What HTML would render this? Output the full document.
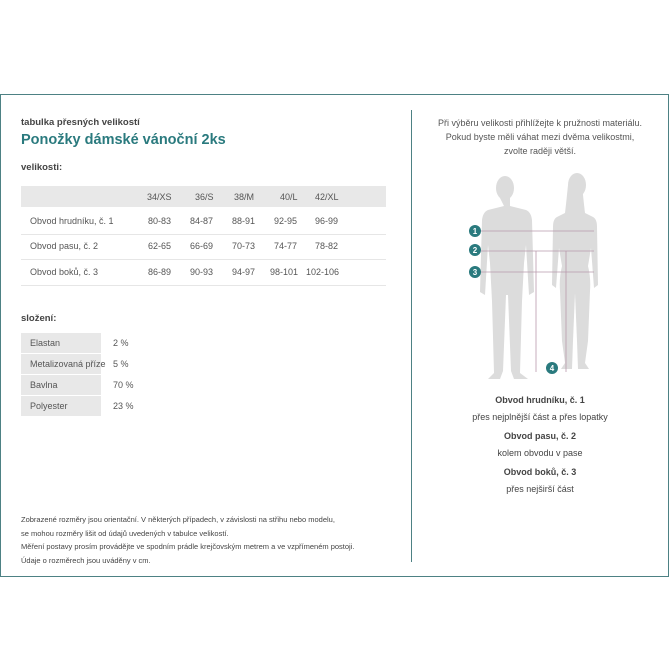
<!DOCTYPE html>
<html><head><meta charset="utf-8"><style>
body{margin:0;width:670px;height:670px;background:#fff;font-family:"Liberation Sans",sans-serif;color:#444;position:relative;overflow:hidden}
.a{position:absolute;white-space:nowrap}
.frame{position:absolute;left:0;top:94px;width:667px;height:481px;border:1.5px solid #4d8184}
.s{font-size:9px;color:#555}
.g{background:#e8e8e8}
</style></head><body>
<div class="frame"></div>
<div class="a" style="left:411px;top:110px;width:1px;height:452px;background:#4d8184"></div>

<div class="a" style="left:21px;top:117px;font-size:9.5px;font-weight:bold;color:#444">tabulka přesných velikostí</div>
<div class="a" style="left:21px;top:132px;font-size:14.5px;font-weight:bold;color:#2a7a7e">Ponožky dámské vánoční 2ks</div>
<div class="a" style="left:21px;top:162px;font-size:9.5px;font-weight:bold;color:#444">velikosti:</div>

<div class="a g" style="left:21px;top:186px;width:365px;height:21px"></div>
<div class="a" style="left:21px;top:234px;width:365px;height:1px;background:#e6e6e6"></div>
<div class="a" style="left:21px;top:259px;width:365px;height:1px;background:#e6e6e6"></div>
<div class="a" style="left:21px;top:285px;width:365px;height:1px;background:#e6e6e6"></div>

<div class="a s" style="left:147px;top:192px">34/XS</div>
<div class="a s" style="left:195px;top:192px">36/S</div>
<div class="a s" style="left:234px;top:192px">38/M</div>
<div class="a s" style="left:280px;top:192px">40/L</div>
<div class="a s" style="left:315px;top:192px">42/XL</div>

<div class="a s" style="left:30px;top:216px">Obvod hrudníku, č. 1</div>
<div class="a s" style="left:148px;top:216px">80-83</div><div class="a s" style="left:190px;top:216px">84-87</div><div class="a s" style="left:232px;top:216px">88-91</div><div class="a s" style="left:274px;top:216px">92-95</div><div class="a s" style="left:315px;top:216px">96-99</div>
<div class="a s" style="left:30px;top:241px">Obvod pasu, č. 2</div>
<div class="a s" style="left:148px;top:241px">62-65</div><div class="a s" style="left:190px;top:241px">66-69</div><div class="a s" style="left:232px;top:241px">70-73</div><div class="a s" style="left:274px;top:241px">74-77</div><div class="a s" style="left:315px;top:241px">78-82</div>
<div class="a s" style="left:30px;top:267px">Obvod boků, č. 3</div>
<div class="a s" style="left:148px;top:267px">86-89</div><div class="a s" style="left:190px;top:267px">90-93</div><div class="a s" style="left:232px;top:267px">94-97</div><div class="a s" style="left:270px;top:267px">98-101</div><div class="a s" style="left:306px;top:267px">102-106</div>

<div class="a" style="left:21px;top:313px;font-size:9.5px;font-weight:bold;color:#444">složení:</div>
<div class="a g" style="left:21px;top:333px;width:80px;height:20px"></div>
<div class="a g" style="left:21px;top:354px;width:80px;height:20px"></div>
<div class="a g" style="left:21px;top:375px;width:80px;height:20px"></div>
<div class="a g" style="left:21px;top:396px;width:80px;height:20px"></div>
<div class="a s" style="left:30px;top:338px">Elastan</div><div class="a s" style="left:113px;top:338px">2 %</div>
<div class="a s" style="left:30px;top:359px">Metalizovaná příze</div><div class="a s" style="left:113px;top:359px">5 %</div>
<div class="a s" style="left:30px;top:380px">Bavlna</div><div class="a s" style="left:113px;top:380px">70 %</div>
<div class="a s" style="left:30px;top:401px">Polyester</div><div class="a s" style="left:113px;top:401px">23 %</div>

<div class="a" style="left:21px;top:513px;font-size:7.5px;line-height:13.5px;color:#444">Zobrazené rozměry jsou orientační. V některých případech, v závislosti na střihu nebo modelu,<br>se mohou rozměry lišit od údajů uvedených v tabulce velikostí.<br>Měření postavy prosím provádějte ve spodním prádle krejčovským metrem a ve vzpřímeném postoji.<br>Údaje o rozměrech jsou uváděny v cm.</div>

<div class="a s" style="left:411px;top:116px;width:258px;text-align:center;white-space:normal;line-height:14px">Při výběru velikosti přihlížejte k pružnosti materiálu.<br>Pokud byste měli váhat mezi dvěma velikostmi,<br>zvolte raději větší.</div>

<svg class="a" style="left:411px;top:160px" width="258" height="220" viewBox="0 0 258 220">
<g fill="#dcdcdc">
<ellipse cx="94" cy="28" rx="9" ry="12"/>
<path d="M89 38 h10 v8 l16 4 q5 2 6 10 l2 72 l-5 3 l-3 -50 l-2 18 l-2 38 l-2 72 l8 6 l-14 0 l-3 -8 l-3 -76 l-2 0 l-3 76 l-3 8 l-12 0 l6 -6 l-2 -72 l-2 -38 l-2 -18 l-3 50 l-5 -3 l2 -72 q1 -8 6 -10 l16 -4z"/>
<ellipse cx="166" cy="25" rx="9" ry="12"/>
<path d="M157 25 q-2 20 -3 28 l-8 4 q-4 2 -4 10 l-1 58 l4 3 l3 -40 l3 18 q-3 12 -2 25 l2 50 l3 22 l-4 6 l11 0 l1 -28 l2 -48 l2 48 l1 28 l11 0 l-4 -6 l3 -22 l2 -50 q1 -13 -2 -25 l3 -18 l3 40 l4 -3 l-1 -58 q0 -8 -4 -10 l-8 -4 q-1 -8 -3 -28z"/>
</g>
<g stroke="#b99aac" stroke-width="0.8" fill="none">
<line x1="70" y1="71" x2="183" y2="71"/><line x1="70" y1="91" x2="183" y2="91"/><line x1="70" y1="112" x2="183" y2="112"/>
<line x1="125" y1="91" x2="125" y2="212"/><line x1="155" y1="91" x2="155" y2="212"/>
</g>
<g fill="#2a7a7e"><circle cx="64" cy="71" r="6"/><circle cx="64" cy="90" r="6"/><circle cx="64" cy="112" r="6"/><circle cx="141" cy="208" r="6"/></g>
<g fill="#fff" font-size="8" font-weight="bold" text-anchor="middle" font-family="Liberation Sans,sans-serif"><text x="64" y="74">1</text><text x="64" y="93">2</text><text x="64" y="115">3</text><text x="141" y="211">4</text></g>
</svg>

<div class="a" style="left:411px;top:392px;width:258px;text-align:center;font-size:9px;line-height:17px;color:#444">
<b>Obvod hrudníku, č. 1</b><br>přes nejplnější část a přes lopatky<br><div style="height:2px"></div>
<b>Obvod pasu, č. 2</b><br>kolem obvodu v pase<br><div style="height:2px"></div>
<b>Obvod boků, č. 3</b><br>přes nejširší část</div>
</body></html>
